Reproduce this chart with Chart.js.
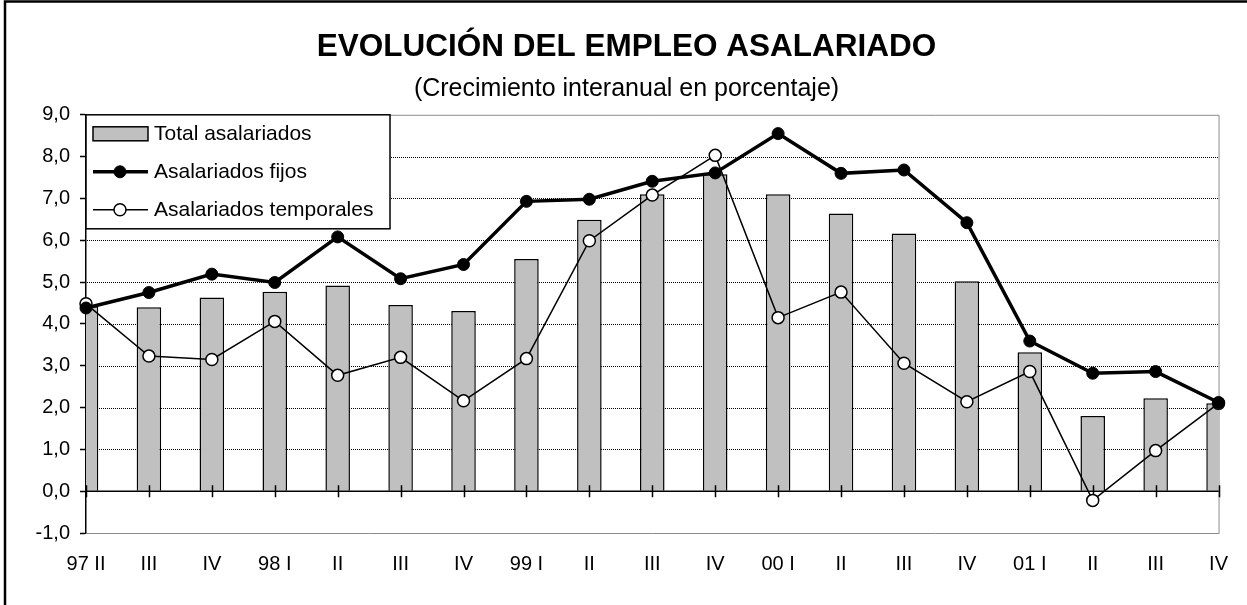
<!DOCTYPE html>
<html lang="es">
<head>
  <meta charset="UTF-8">
  <title>Evolución del empleo asalariado</title>
  <script src="https://cdn.jsdelivr.net/npm/chart.js"></script>
  <style>
    body { margin: 0; background: #fff; }
    #wrap { width: 1247px; height: 605px; position: relative; }
  </style>
</head>
<body>
  <div id="wrap">
    <canvas id="empleoChart"></canvas>
  </div>

  <script>
    // Trimestres (eje X)
    const quarters = ['97 II', 'III', 'IV', '98 I', 'II', 'III', 'IV', '99 I', 'II', 'III', 'IV',
                      '00 I', 'II', 'III', 'IV', '01 I', 'II', 'III', 'IV'];

    // Crecimiento interanual (%)
    const totalAsalariados = [4.42, 4.40, 4.63, 4.77, 4.92, 4.45, 4.31, 5.55, 6.49, 7.10, 7.58,
                              7.10, 6.64, 6.16, 5.02, 3.32, 1.80, 2.22, 2.10];
    const asalariadosFijos = [4.38, 4.75, 5.19, 4.99, 6.08, 5.08, 5.42, 6.93, 6.98, 7.41, 7.61,
                              8.55, 7.60, 7.68, 6.42, 3.59, 2.82, 2.86, 2.12];
    const asalariadosTemporales = [4.48, 3.23, 3.15, 4.06, 2.77, 3.20, 2.16, 3.17, 5.99, 7.08, 8.03,
                                   4.15, 4.76, 3.06, 2.14, 2.86, -0.22, 0.97, 2.10];

    // Eje Y
    const yMin = -1;
    const yMax = 9;

    const FONT = 'Arial, "Liberation Sans", sans-serif';

    // fondo, rejilla punteada, leyenda, borde del área, eje en cero y marco exterior
    const decoPlugin = {
      id: 'deco',
      beforeDraw(chart) {
        const c = chart.ctx;
        c.save();
        c.fillStyle = '#fff';
        c.fillRect(0, 0, chart.width, chart.height);
        c.restore();
      },
      beforeDatasetsDraw(chart) {
        const c = chart.ctx, a = chart.chartArea, ys = chart.scales.y;
        c.save();
        // rejilla horizontal punteada
        c.strokeStyle = '#000';
        c.lineWidth = 1;
        c.setLineDash([1, 1]);
        c.beginPath();
        ys.ticks.forEach(t => {
          if (t.value <= yMin || t.value >= yMax || t.value === 0) return;
          const py = Math.round(ys.getPixelForValue(t.value)) + 0.5;
          c.moveTo(a.left + 1, py);
          c.lineTo(a.right, py);
        });
        c.stroke();
        c.setLineDash([]);

        // borde gris del área de trazado
        c.strokeStyle = '#8c8c8c';
        c.lineWidth = 1;
        c.beginPath();
        c.moveTo(a.left, a.top + 0.5);
        c.lineTo(a.right + 0.5, a.top + 0.5);
        c.lineTo(a.right + 0.5, a.bottom + 0.5);
        c.lineTo(a.left, a.bottom + 0.5);
        c.stroke();

        // leyenda
        const x = a.left, y = a.top, w = 304, h = 114;
        c.fillStyle = '#fff';
        c.fillRect(x, y, w, h);
        c.strokeStyle = '#000';
        c.lineWidth = 1.5;
        c.strokeRect(x, y, w, h);
        c.font = '21px ' + FONT;
        c.textBaseline = 'middle';
        chart.data.datasets.forEach((ds, i) => {
          const cy = y + 19 + i * 38;
          if (ds.type === 'line') {
            c.strokeStyle = ds.borderColor;
            c.lineWidth = ds.borderWidth;
            c.beginPath();
            c.moveTo(x + 7, cy);
            c.lineTo(x + 62, cy);
            c.stroke();
            c.beginPath();
            c.arc(x + 34, cy, ds.pointRadius, 0, Math.PI * 2);
            c.fillStyle = ds.pointBackgroundColor;
            c.fill();
            c.lineWidth = ds.pointBorderWidth;
            c.strokeStyle = ds.pointBorderColor;
            c.stroke();
          } else {
            c.fillStyle = ds.backgroundColor;
            c.fillRect(x + 7, cy - 7, 55, 14);
            c.strokeStyle = ds.borderColor;
            c.lineWidth = 1.5;
            c.strokeRect(x + 7, cy - 7, 55, 14);
          }
          c.fillStyle = '#000';
          c.fillText(ds.label, x + 68, cy);
        });
        c.restore();
      },
      afterDatasetDraw(chart, args) {
        if (args.index !== 0) return;
        // eje X sobre el valor cero, con marcas que lo cruzan
        const c = chart.ctx, a = chart.chartArea;
        const xs = chart.scales.x, y0 = chart.scales.y.getPixelForValue(0);
        c.save();
        c.strokeStyle = '#000';
        c.lineWidth = 1.5;
        c.beginPath();
        c.moveTo(a.left, y0);
        c.lineTo(a.right, y0);
        for (let i = 0; i < quarters.length; i++) {
          const px = Math.round(xs.getPixelForTick(i)) + 0.5;
          c.moveTo(px, y0 - 6);
          c.lineTo(px, y0 + 6);
        }
        c.stroke();
        c.restore();
      },
      afterDraw(chart) {
        const c = chart.ctx;
        c.save();
        c.strokeStyle = '#000';
        c.lineWidth = 2.5;
        c.beginPath();
        c.moveTo(5, chart.height);
        c.lineTo(5, 1.5);
        c.lineTo(chart.width, 1.5);
        c.stroke();
        c.restore();
      }
    };

    const config = {
      type: 'bar',
      data: {
        labels: quarters,
        datasets: [
          {
            type: 'bar',
            label: 'Total asalariados',
            data: totalAsalariados,
            backgroundColor: '#c0c0c0',
            borderColor: '#000',
            borderWidth: 1.5,
            barPercentage: 0.39,
            categoryPercentage: 1,
            order: 3
          },
          {
            type: 'line',
            label: 'Asalariados fijos',
            data: asalariadosFijos,
            borderColor: '#000',
            borderWidth: 3.5,
            pointRadius: 6,
            pointBackgroundColor: '#000',
            pointBorderColor: '#000',
            pointBorderWidth: 1,
            tension: 0,
            clip: 10,
            order: 1
          },
          {
            type: 'line',
            label: 'Asalariados temporales',
            data: asalariadosTemporales,
            borderColor: '#000',
            borderWidth: 1.5,
            pointRadius: 6,
            pointBackgroundColor: '#fff',
            pointBorderColor: '#000',
            pointBorderWidth: 1.5,
            tension: 0,
            clip: 10,
            order: 2
          }
        ]
      },
      options: {
        responsive: true,
        maintainAspectRatio: false,
        animation: false,
        layout: { padding: { top: 10, right: 22, left: 28, bottom: 0 } },
        scales: {
          x: {
            offset: false,
            grid: { display: false, drawTicks: false },
            border: { display: false },
            ticks: {
              color: '#000',
              font: { family: FONT, size: 20 },
              padding: 19,
              maxRotation: 0,
              autoSkip: false
            },
            afterFit(scale) { scale.height = 72; }
          },
          y: {
            min: yMin,
            max: yMax,
            grid: {
              drawOnChartArea: false,
              tickColor: '#000',
              tickLength: 6,
              tickWidth: 1.5
            },
            border: { display: true, color: '#000', width: 1.5 },
            ticks: {
              stepSize: 1,
              color: '#000',
              padding: 10,
              font: { family: FONT, size: 20 },
              callback: v => v.toFixed(1).replace('.', ',')
            },
            afterFit(scale) { scale.width = 58; }
          }
        },
        plugins: {
          legend: { display: false },
          tooltip: { enabled: false },
          title: {
            display: true,
            text: 'EVOLUCIÓN DEL EMPLEO ASALARIADO',
            color: '#000',
            font: { family: FONT, size: 31.5, weight: 'bold' },
            padding: { top: 18, bottom: 4 }
          },
          subtitle: {
            display: true,
            text: '(Crecimiento interanual en porcentaje)',
            color: '#000',
            font: { family: FONT, size: 25 },
            padding: { top: 4, bottom: 11 }
          }
        }
      },
      plugins: [decoPlugin]
    };

    new Chart(document.getElementById('empleoChart'), config);
  </script>
</body>
</html>
